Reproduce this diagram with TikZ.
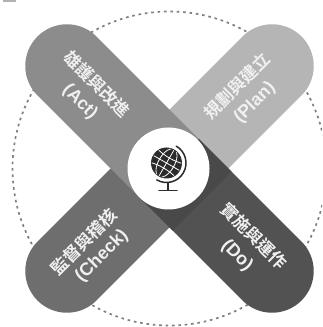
\documentclass[tikz,border=0pt]{standalone}
\usepackage{fontspec}
\setmainfont{Liberation Sans}
\newfontfamily\cjk{Noto Sans CJK TC}[BoldFont={Noto Sans CJK TC Bold}]
\definecolor{actc}{gray}{0.55}
\definecolor{planc}{gray}{0.71}
\definecolor{checkc}{gray}{0.43}
\definecolor{doc}{gray}{0.32}
\definecolor{dodark}{gray}{0.285}
\definecolor{ringc}{gray}{0.5}
\definecolor{globec}{gray}{0.17}
\tikzset{
  x=1pt,y=1pt,
  zh/.style={text=white!94!black,font=\cjk\bfseries\fontsize{17}{18}\selectfont,inner sep=0pt},
  en/.style={text=white!94!black,font=\bfseries\fontsize{18}{20}\selectfont,inner sep=0pt},
  ring/.style={draw=ringc,line width=1.7pt,dash pattern=on 2.6pt off 3.8pt},
  grat/.style={draw=white,line width=0.8pt}
}
\newcommand{\pill}[2]{\begin{scope}[shift={(169.5,158.5)},rotate=#1]
  \fill[#2] (0,-41.7) -- (145,-41.7) arc (-90:90:41.7) -- (0,41.7) -- cycle;
\end{scope}}
\begin{document}
\begin{tikzpicture}
\useasboundingbox (0,0) rectangle (322,327);
\fill[white] (0,0) rectangle (322,327);
\fill[gray!60] (3,325.2) rectangle (16,327);
\begin{scope}
\clip (0,0) rectangle (322,327);
\draw[ring] (169.5,158.5) circle (157);
\end{scope}
\pill{225}{checkc}
\pill{45}{planc}
\pill{135}{actc}
\pill{315}{doc}
\begin{scope}[shift={(169.5,158.5)},rotate=315]
  \fill[dodark] (0,-41.7) rectangle (46,41.7);
\end{scope}
\fill[white] (168.5,158.5) circle (41);
% globe
\fill[globec] (166.5,164) circle (15.5);
\begin{scope}
\clip (166.5,164) circle (14.8);
\begin{scope}[shift={(166.5,164)},rotate=-30]
  \draw[grat] (0,-16) -- (0,16);
  \draw[grat] (0,0) ellipse (8 and 16);
  \draw[grat] (-16,0) -- (16,0);
  \draw[grat] (-16,8) .. controls (-6,5) and (6,5) .. (16,8);
  \draw[grat] (-16,-8) .. controls (-6,-5) and (6,-5) .. (16,-8);
\end{scope}
\end{scope}
\draw[globec,line width=1.5pt,line cap=round] (166.5,164) ++(60:19.5) arc (60:-120:19.5);
\draw[globec,line width=1.5pt] (168,145) -- (168,137);
\draw[globec,line width=1.6pt,line cap=round] (159,136.5) -- (177,136.5);
% text
\node[zh,rotate=-45] (actzh) at (97,243) {雄護與改進};
\node[en,rotate=-45] (acten) at (80,225) {(Act)};
\node[zh,rotate=45] (planzh) at (237,241) {規劃與建立};
\node[en,rotate=45] (planen) at (255,224) {(Plan)};
\node[zh,rotate=45] (checkzh) at (84,85) {監督與稽核};
\node[en,rotate=45] (checken) at (102,71) {(Check)};
\node[zh,rotate=-45] (dozh) at (254,91) {實施與運作};
\node[en,rotate=-45] (doen) at (237,71) {(Do)};
\end{tikzpicture}
\end{document}
